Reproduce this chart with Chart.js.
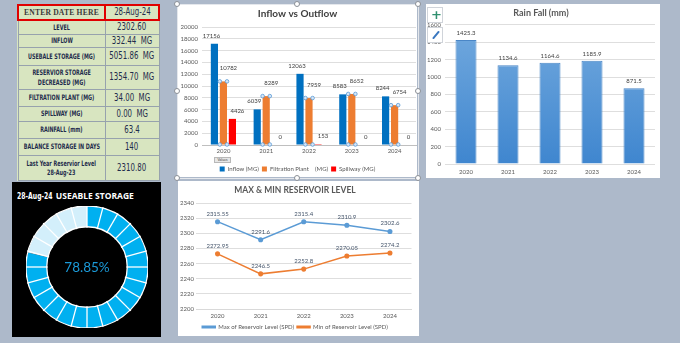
<!DOCTYPE html>
<html>
<head>
<meta charset="utf-8">
<script src="https://cdn.jsdelivr.net/npm/chart.js@4.4.0/dist/chart.umd.min.js"></script>
<style>
  body { margin: 0; width: 680px; height: 343px; background: #adb9ca; position: relative; overflow: hidden; font-family: Lato, 'Liberation Sans', sans-serif; }
  .white { position: absolute; background: #fff; }
  .frame { position: absolute; border: 1px solid #e4e7ec; box-sizing: border-box; }
  .handle { position: absolute; width: 6px; height: 6px; border-radius: 50%; background: #fff; border: 1px solid #8a8f96; box-sizing: border-box; }
  canvas { position: absolute; }
  table.info { position: absolute; left: 17px; top: 4px; width: 141px; border-collapse: collapse; background: #d8e5c0; table-layout: fixed; }
  table.info td { border: 1px solid #97a2ad; padding: 0; color: #1f2c4c; overflow: visible; }
  .cell { display: flex; justify-content: center; align-items: center; width: 100%; }
  .cell span { flex-shrink: 0; white-space: nowrap; text-align: center; display: inline-block; transform: scaleX(0.72); transform-origin: center; font-family: 'DejaVu Sans Condensed', 'DejaVu Sans', sans-serif; font-weight: bold; line-height: 1.25; }
  td.lab span { font-size: 7.5px; }
  td.val span { font-size: 10px; font-weight: normal; transform: scaleX(0.78); }
  table.info tr.head td { border: 2px solid #e00000; }
  tr.head td.lab span { font-family: 'Liberation Serif', serif; font-size: 8px; font-weight: bold; color: #3a3a3a; transform: scaleX(0.95); letter-spacing: 0.2px; }
  .black { position: absolute; left: 12px; top: 182px; width: 149px; height: 155px; background: #000; }
  .dtitle { position: absolute; left: 17px; top: 190px; color: #fff; font-size: 8.5px; font-weight: bold; font-family: 'Open Sans', sans-serif; white-space: nowrap; }
  .dtitle span { font-family: 'DejaVu Sans Condensed', sans-serif; font-weight: bold; font-size: 8px; display: inline-block; transform: scaleX(0.85); transform-origin: left; margin-right: -3px; }
  .btn { position: absolute; left: 427px; width: 16px; height: 16px; background: #fff; border: 1px solid #d0d4da; box-sizing: border-box; }
  .values { position: absolute; left: 214px; top: 157px; width: 17px; height: 6px; background: #e6e6e6; border: 1px solid #b8b8b8; box-sizing: border-box; font-size: 3.5px; line-height: 4px; text-align: center; color: #444; }
</style>
</head>
<body>
<div class="white" style="left:178px;top:5px;width:239px;height:172px;"></div>
<div class="frame" style="left:177px;top:4px;width:242px;height:175px;"></div>
<div class="white" style="left:426px;top:4px;width:234px;height:174px;"></div>
<div class="white" style="left:178px;top:181px;width:241px;height:155px;"></div>

<table class="info" id="info"></table>

<div class="black"></div>
<div class="dtitle"><span id="dDate"></span>USEABLE STORAGE</div>

<canvas id="flow" width="238" height="176" style="left:179px;top:6px;"></canvas>
<canvas id="rain" width="232" height="170" style="left:427px;top:6px;"></canvas>
<canvas id="level" width="239" height="158" style="left:178px;top:182px;"></canvas>
<canvas id="donut" width="122" height="122" style="left:26px;top:206px;"></canvas>

<div class="values">Values</div>
<div class="btn" style="top:7px;"><div style="position:absolute;left:3px;top:-1px;font:bold 13px 'DejaVu Sans';color:#2f8f6f;">+</div></div>
<div class="btn" style="top:27px;"><div style="position:absolute;left:7px;top:2px;width:2px;height:10px;background:#3a78c0;transform:rotate(40deg);border-radius:1px;"></div></div>

<div class="handle" style="left:174px;top:1px;"></div>
<div class="handle" style="left:294px;top:1px;"></div>
<div class="handle" style="left:415px;top:1px;"></div>
<div class="handle" style="left:174px;top:88px;"></div>
<div class="handle" style="left:415px;top:88px;"></div>
<div class="handle" style="left:174px;top:175px;"></div>
<div class="handle" style="left:294px;top:175px;"></div>
<div class="handle" style="left:415px;top:175px;"></div>

<script>
// summary table
const tableLabels = ['ENTER DATE HERE', 'LEVEL', 'INFLOW', 'USEBALE STORAGE (MG)', 'RESERVIOR STORAGE\nDECREASED (MG)',
  'FILTRATION PLANT  (MG)', 'SPILLWAY (MG)', 'RAINFALL (mm)', 'BALANCE STORAGE IN DAYS', 'Last Year Reservior Level\n28-Aug-23'];
const tableValues = ['28-Aug-24', '2302.60', '332.44  MG', '5051.86  MG', '1354.70  MG',
  '34.00  MG', '0.00  MG', '63.4', '140', '2310.80'];
const rowHeights = [15, 13, 13, 18, 24, 17, 15, 17, 17, 25];

// charts
const years = ['2020', '2021', '2022', '2023', '2024'];
const inflow = [17156, 6039, 12063, 8583, 8244];
const filtration = [10782, 8289, 7959, 8652, 6754];
const spillway = [4426, 0, 153, 0, 0];
const rainfall = [1425.3, 1134.6, 1164.6, 1185.9, 871.5];
const maxLevel = [2315.55, 2291.6, 2315.4, 2310.9, 2302.6];
const minLevel = [2272.95, 2246.5, 2252.8, 2270.05, 2274.2];
const storagePct = [78.85];
const ringSegments = 24;

const tickColor = '#595959';
const gridColor = '#dedede';
const smallFont = { family: 'Lato', size: 6 };
const plain = v => String(v);

// build the table
const info = document.getElementById('info');
info.innerHTML = '<colgroup><col style="width:87px"><col style="width:54px"></colgroup>' +
  tableLabels.map((lab, i) => `
    <tr class="${i === 0 ? 'head' : ''}" style="height:${rowHeights[i]}px">
      <td class="lab"><div class="cell"><span>${lab.replace('\n', '<br>')}</span></div></td>
      <td class="val"><div class="cell"><span>${tableValues[i].replace(/ /g, '&nbsp;')}</span></div></td>
    </tr>`).join('');
document.getElementById('dDate').textContent = tableValues[0];

// value labels above bars / points
const valueLabels = {
  id: 'valueLabels',
  afterDatasetsDraw(chart, args, opts) {
    const ctx = chart.ctx;
    ctx.save();
    ctx.font = `${opts.size || 6}px Lato`;
    ctx.fillStyle = opts.color || '#404040';
    ctx.textAlign = 'center';
    ctx.textBaseline = 'bottom';
    chart.data.datasets.forEach((ds, di) => {
      const meta = chart.getDatasetMeta(di);
      meta.data.forEach((el, i) => {
        const dx = ds.labelDx || 0;
        const dy = ds.labelDy || 4;
        ctx.fillText(String(ds.data[i]), el.x + dx, el.y - dy);
      });
    });
    ctx.restore();
  }
};

// selection handles on the selected bar series
const barHandles = {
  id: 'barHandles',
  afterDatasetsDraw(chart) {
    const ctx = chart.ctx;
    const meta = chart.getDatasetMeta(1);
    ctx.save();
    ctx.fillStyle = '#d6e6f8';
    ctx.strokeStyle = '#5b9bd5';
    ctx.lineWidth = 0.8;
    meta.data.forEach(bar => {
      const half = bar.width / 2;
      [[bar.x - half, bar.y], [bar.x + half, bar.y], [bar.x - half, bar.base], [bar.x + half, bar.base]].forEach(p => {
        ctx.beginPath();
        ctx.arc(p[0], p[1], 1.8, 0, Math.PI * 2);
        ctx.fill();
        ctx.stroke();
      });
    });
    ctx.restore();
  }
};

Chart.defaults.animation = false;
Chart.defaults.responsive = false;
Chart.defaults.events = [];
Chart.defaults.plugins.tooltip.enabled = false;

new Chart(document.getElementById('flow'), {
  type: 'bar',
  data: {
    labels: years,
    datasets: [
      { label: 'Inflow (MG)', data: inflow, backgroundColor: '#0070c0', labelDx: -3, labelDy: 5 },
      { label: 'Filtration Plant    (MG)', data: filtration, backgroundColor: '#ed7d31', labelDx: 5, labelDy: 10 },
      { label: 'Spillway (MG)', data: spillway, backgroundColor: '#ff0000', labelDx: 5, labelDy: 5 }
    ]
  },
  options: {
    categoryPercentage: 0.63,
    barPercentage: 0.8,
    layout: { padding: { left: 0, right: 1, top: 0, bottom: 0 } },
    scales: {
      x: {
        grid: { display: false, drawTicks: false },
        border: { color: '#bfbfbf' },
        ticks: { color: tickColor, font: smallFont, padding: 2 },
        afterFit(scale) { scale.height = 18; }
      },
      y: {
        min: 0, max: 20000,
        ticks: { stepSize: 2000, color: tickColor, font: smallFont, padding: 4, callback: plain },
        grid: { color: gridColor, drawTicks: false },
        border: { display: false },
        afterFit(scale) { scale.width = 23; }
      }
    },
    plugins: {
      title: { display: true, text: 'Inflow vs Outflow', color: '#404040', font: { family: 'Lato', size: 10, weight: 'bold' }, padding: { top: 2, bottom: 7 } },
      legend: { position: 'bottom', labels: { color: tickColor, font: smallFont, boxWidth: 5, boxHeight: 5, padding: 3 } },
      valueLabels: { size: 6, color: '#404040' }
    }
  },
  plugins: [valueLabels, barHandles]
});

new Chart(document.getElementById('rain'), {
  type: 'bar',
  data: {
    labels: years,
    datasets: [{
      label: 'Rain Fall (mm)',
      data: rainfall,
      backgroundColor(c) {
        const area = c.chart.chartArea;
        if (!area) return '#5b9bd5';
        const g = c.chart.ctx.createLinearGradient(0, area.top, 0, area.bottom);
        g.addColorStop(0, '#72a9de');
        g.addColorStop(1, '#3f86cf');
        return g;
      },
      borderColor: '#4a86c6',
      borderWidth: 1,
      labelDy: 4
    }]
  },
  options: {
    categoryPercentage: 1,
    barPercentage: 0.5,
    layout: { padding: { left: 0, right: 4, top: 0, bottom: 0 } },
    scales: {
      x: {
        grid: { display: false, drawTicks: false },
        border: { display: false },
        ticks: { color: tickColor, font: smallFont, padding: 4 },
        afterFit(scale) { scale.height = 12; }
      },
      y: {
        min: 0, max: 1600,
        ticks: { stepSize: 200, color: tickColor, font: smallFont, padding: 4, callback: plain },
        grid: { color: gridColor, drawTicks: false },
        border: { display: false },
        afterFit(scale) { scale.width = 18; }
      }
    },
    plugins: {
      title: { display: true, text: 'Rain Fall (mm)', color: '#595959', font: { family: 'Lato', size: 9 }, padding: { top: 2, bottom: 6 } },
      legend: { display: false },
      valueLabels: { size: 6, color: '#404040' }
    }
  },
  plugins: [valueLabels]
});

new Chart(document.getElementById('level'), {
  type: 'line',
  data: {
    labels: years,
    datasets: [
      { label: 'Max of Reservoir Level (SPD)', data: maxLevel, borderColor: '#5b9bd5', backgroundColor: '#5b9bd5', borderWidth: 1.5, pointRadius: 1.8, labelDy: 5 },
      { label: 'Min of Reservoir Level (SPD)', data: minLevel, borderColor: '#ed7d31', backgroundColor: '#ed7d31', borderWidth: 1.5, pointRadius: 1.8, labelDy: 5 }
    ]
  },
  options: {
    layout: { padding: { left: 0, right: 5, top: 0, bottom: 0 } },
    scales: {
      x: {
        offset: true,
        grid: { display: false, drawTicks: false },
        border: { color: '#d9d9d9' },
        ticks: { color: tickColor, font: smallFont, padding: 3 },
        afterFit(scale) { scale.height = 12; }
      },
      y: {
        min: 2200, max: 2340,
        ticks: { stepSize: 20, color: tickColor, font: smallFont, padding: 2, callback: plain },
        grid: { color: gridColor, drawTicks: false },
        border: { display: false },
        afterFit(scale) { scale.width = 18; }
      }
    },
    plugins: {
      title: { display: true, text: 'MAX & MIN RESERVOIR LEVEL', color: '#595959', font: { family: 'Lato', size: 8.5, weight: 'bold' }, padding: { top: 3, bottom: 8 } },
      legend: { position: 'bottom', labels: { color: tickColor, font: smallFont, boxWidth: 13, boxHeight: 1.5, padding: 3 } },
      valueLabels: { size: 6, color: '#44546a' }
    }
  },
  plugins: [valueLabels]
});

// ring with white cuts and the percentage in the middle
const ringCuts = {
  id: 'ringCuts',
  afterDatasetsDraw(chart) {
    const arc = chart.getDatasetMeta(0).data[0];
    const ctx = chart.ctx;
    ctx.save();
    ctx.strokeStyle = '#ffffff';
    ctx.lineWidth = 1.3;
    for (let i = 0; i < ringSegments; i++) {
      const a = -Math.PI / 2 + i * 2 * Math.PI / ringSegments;
      ctx.beginPath();
      ctx.moveTo(arc.x + Math.cos(a) * (arc.innerRadius - 1), arc.y + Math.sin(a) * (arc.innerRadius - 1));
      ctx.lineTo(arc.x + Math.cos(a) * (arc.outerRadius + 1), arc.y + Math.sin(a) * (arc.outerRadius + 1));
      ctx.stroke();
    }
    ctx.beginPath();
    ctx.arc(arc.x, arc.y, arc.innerRadius, 0, Math.PI * 2);
    ctx.stroke();
    ctx.beginPath();
    ctx.arc(arc.x, arc.y, arc.outerRadius, 0, Math.PI * 2);
    ctx.stroke();
    ctx.fillStyle = '#1b9ad8';
    ctx.font = '13.5px Lato';
    ctx.textAlign = 'center';
    ctx.textBaseline = 'middle';
    ctx.fillText(storagePct[0].toFixed(2) + '%', arc.x, arc.y + 1);
    ctx.restore();
  }
};

new Chart(document.getElementById('donut'), {
  type: 'doughnut',
  data: {
    labels: ['Used', 'Empty'],
    datasets: [{ data: [storagePct[0], 100 - storagePct[0]], backgroundColor: ['#00b0f0', '#d3effb'], borderWidth: 0 }]
  },
  options: {
    cutout: '66%',
    plugins: { legend: { display: false } }
  },
  plugins: [ringCuts]
});
</script>
</body>
</html>
